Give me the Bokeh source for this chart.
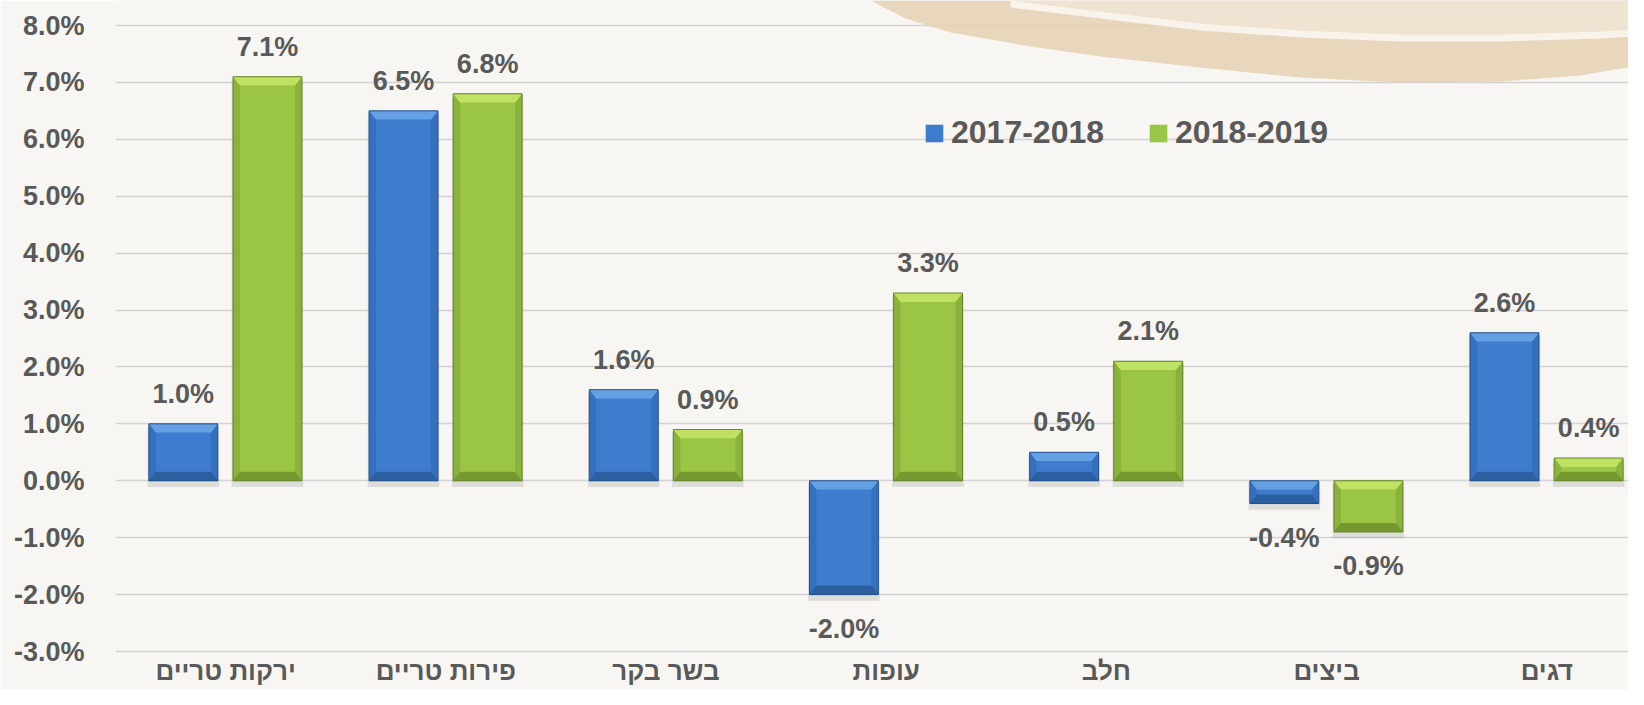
import numpy as np
from bokeh.plotting import figure
from bokeh.models import (ColumnDataSource, Range1d, FixedTicker, PrintfTickFormatter,
                          Legend, LegendItem, PolyAnnotation)
from bokeh.core.properties import value
from bokeh.embed import file_html
from bokeh.resources import INLINE

# ---------------- data ----------------
categories = ["ירקות טריים", "פירות טריים", "בשר בקר", "עופות", "חלב", "ביצים", "דגים"]
series_names = ["2017-2018", "2018-2019"]
change_2017_2018 = [1.0, 6.5, 1.6, -2.0, 0.5, -0.4, 2.6]
change_2018_2019 = [7.1, 6.8, 0.9, 3.3, 2.1, -0.9, 0.4]
y_ticks = [-3, -2, -1, 0, 1, 2, 3, 4, 5, 6, 7, 8]

# ---------------- style ----------------
FONT = "Liberation Sans"
TEXT = "#595959"
BG = "#f7f6f3"
W, H = 1628, 689
LEFT, RIGHT = 115, 0
GRID_TOP_PX, GRID_BOTTOM_PX = 25, 651   # pixel rows of the 8% and -3% lines
CAT_PX = 220.2
x_end = -0.5 + (W - LEFT - RIGHT) / CAT_PX
Y_PX = (GRID_BOTTOM_PX - GRID_TOP_PX) / (max(y_ticks) - min(y_ticks))
y_start = min(y_ticks) - (H - GRID_BOTTOM_PX) / Y_PX
y_end = y_start + H / Y_PX
BAR_W = 0.313
BEV_X = 7 / CAT_PX
BEV_Y = 9 / Y_PX

p = figure(width=W, height=H, x_range=Range1d(-0.5, x_end), y_range=Range1d(y_start, y_end),
           output_backend="svg", toolbar_location=None,
           min_border_left=LEFT, min_border_right=RIGHT,
           min_border_top=0, min_border_bottom=0,
           background_fill_color=BG, border_fill_color=BG, outline_line_color=None)

# decorative swoosh in the top-right corner (background only)
def poly(pts, color, alpha):
    return PolyAnnotation(xs=[x for x, _ in pts], ys=[y for _, y in pts],
                          xs_units="canvas", ys_units="canvas",
                          fill_color=color, fill_alpha=alpha, line_color=None, level="underlay")

band = [(870, 0), (905, 18), (950, 32), (1030, 46), (1100, 56), (1200, 67), (1300, 77),
        (1400, 82), (1500, 81), (1580, 75), (1644, 64), (1644, 0)]
p.add_layout(poly(band, "#e5d1b2", 0.85))
top_light = [(1010, 0), (1100, 11), (1200, 23), (1300, 30), (1400, 34), (1500, 34),
             (1600, 31), (1644, 28), (1644, 0)]
p.add_layout(poly(top_light, "#efe4d4", 0.9))
streak_top = [(1010, 0), (1100, 11), (1200, 23), (1300, 30), (1400, 34), (1500, 34),
              (1600, 31), (1644, 28)]
streak = streak_top + [(x, y + 7) for x, y in reversed(streak_top)]
p.add_layout(poly(streak, "#ffffff", 0.7))

styles = [
    dict(dodge=-0.192, light="#66a0e4", main="#3e7dcd", side="#3570bf", dark="#2b5f9f",
         outline="#24508a"),
    dict(dodge=0.19, light="#c0e263", main="#9bc545", side="#8bb23a", dark="#76992f",
         outline="#66842a"),
]
series_values = [change_2017_2018, change_2018_2019]

legend_items = []
for name, vals, st in zip(series_names, series_values, styles):
    v = np.array(vals, dtype=float)
    top = np.maximum(v, 0)
    bot = np.minimum(v, 0)
    x = np.arange(len(categories)) + st["dodge"]
    xl, xr = x - BAR_W / 2, x + BAR_W / 2
    # bevel trapezoids derived from the bar geometry
    top_xs = [[a, b, b - BEV_X, a + BEV_X] for a, b in zip(xl, xr)]
    top_ys = [[t, t, t - BEV_Y, t - BEV_Y] for t in top]
    bot_xs = [[a, b, b - BEV_X, a + BEV_X] for a, b in zip(xl, xr)]
    bot_ys = [[s, s, s + BEV_Y, s + BEV_Y] for s in bot]
    src = ColumnDataSource(dict(
        x=x, v=v, top=top, bot=bot,
        top_s=top - 0.05, bot_s=bot - 0.11,
        top_in=top - BEV_Y, bot_in=bot + BEV_Y,
        label=[f"{a:.1f}%" for a in v],
        yoff=[-30 if a >= 0 else 34 for a in v],
    ))
    p.vbar(x="x", width=BAR_W + 0.012, top="top_s", bottom="bot_s", source=src,
           fill_color="#000000", fill_alpha=0.10, line_color=None)
    p.vbar(x="x", width=BAR_W, top="top", bottom="bot", source=src,
           fill_color=st["side"], line_color=None)
    p.patches(top_xs, top_ys, fill_color=st["light"], line_color=None)
    p.patches(bot_xs, bot_ys, fill_color=st["dark"], line_color=None)
    face = p.vbar(x="x", width=BAR_W - 2 * BEV_X, top="top_in", bottom="bot_in", source=src,
                  fill_color=st["main"], line_color=None)
    p.vbar(x="x", width=BAR_W, top="top", bottom="bot", source=src,
           fill_color=None, line_color=st["outline"], line_width=1)
    p.text(x="x", y="v", text="label", y_offset="yoff", source=src,
           text_align="center", text_baseline="alphabetic",
           text_font=value(FONT), text_font_style="bold", text_font_size="27px",
           text_color=TEXT)
    legend_items.append(LegendItem(label=name, renderers=[face]))

legend = Legend(items=legend_items, orientation="horizontal",
                location=(808, H - GRID_BOTTOM_PX + 500),
                glyph_width=22, glyph_height=22, label_standoff=6, spacing=43,
                padding=0, margin=0, border_line_color=None, background_fill_alpha=0,
                label_text_font=FONT, label_text_font_style="bold",
                label_text_font_size="32px", label_text_color=TEXT)
p.add_layout(legend, "center")

# category labels along the bottom edge
cat_src = ColumnDataSource(dict(x=np.arange(len(categories)),
                                y=[y_start] * len(categories), text=categories))
p.text(x="x", y="y", text="text", source=cat_src, y_offset=-4,
       text_align="center", text_baseline="bottom",
       text_font=value(FONT), text_font_style="bold", text_font_size="26px",
       text_color=TEXT)

# axes
p.xaxis.visible = False
p.yaxis.ticker = FixedTicker(ticks=y_ticks)
p.yaxis.formatter = PrintfTickFormatter(format="%.1f%%")
p.yaxis.axis_line_color = None
p.yaxis.major_tick_line_color = None
p.yaxis.minor_tick_line_color = None
p.yaxis.major_tick_in = 0
p.yaxis.major_tick_out = 0
p.yaxis.minor_tick_out = 0
p.yaxis.major_label_text_font = FONT
p.yaxis.major_label_text_font_style = "bold"
p.yaxis.major_label_text_color = TEXT
p.yaxis.major_label_text_font_size = "27px"
p.yaxis.major_label_standoff = 31

p.xgrid.grid_line_color = None
p.ygrid.ticker = FixedTicker(ticks=y_ticks)
p.ygrid.grid_line_color = "#d3d3d3"
p.ygrid.grid_line_width = 1.6

open("out.html", "w").write(file_html(p, INLINE))
